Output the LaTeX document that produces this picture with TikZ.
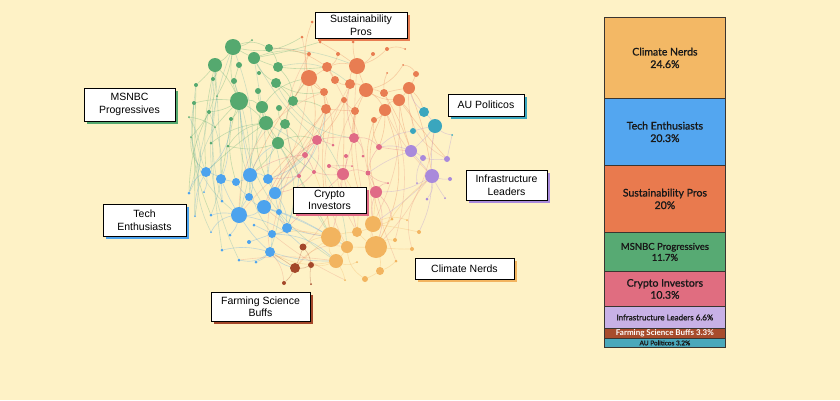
\documentclass[tikz,border=0pt]{standalone}
\usepackage{fontspec}
\setmainfont{Liberation Sans}
\newfontfamily\barfont{Lato}[FakeBold=1.2]
\newfontfamily\barfontw{Lato Bold}
\usetikzlibrary{shadows}
\pgfdeclarelayer{bg}
\pgfdeclarelayer{edges}
\pgfsetlayers{bg,edges,main}
\definecolor{bgc}{HTML}{FEF2C6}
\definecolor{cG}{HTML}{55A96F}
\definecolor{cS}{HTML}{E87D52}
\definecolor{cT}{HTML}{3AA6BE}
\definecolor{cP}{HTML}{A98ADB}
\definecolor{cK}{HTML}{E06A86}
\definecolor{cB}{HTML}{4DA3EE}
\definecolor{cC}{HTML}{F2B45F}
\definecolor{cF}{HTML}{A4482A}
\definecolor{barC}{HTML}{F3B865}
\definecolor{barT}{HTML}{53A6F0}
\definecolor{barS}{HTML}{E97A4E}
\definecolor{barG}{HTML}{57AA73}
\definecolor{barK}{HTML}{E06D80}
\definecolor{barP}{HTML}{C8B1E6}
\definecolor{barF}{HTML}{A84C2C}
\definecolor{barA}{HTML}{4AA8BB}
\definecolor{barline}{HTML}{3A3530}
\begin{document}
\begin{tikzpicture}[x=1pt,y=-1pt,
  dotn/.style={circle,inner sep=0pt,draw=none},
  ed/.style={line width=0.6pt,opacity=0.33},
  lab/.style={draw=black,fill=white,line width=0.9pt,align=center,inner sep=0pt,
    font=\fontsize{10.5}{12.5}\selectfont},
  seg/.style={draw=barline,line width=0.8pt,minimum width=121pt,inner sep=0pt,
    anchor=north west,align=center,text=black!90}]
\begin{pgfonlayer}{bg}
\fill[bgc] (0,0) rectangle (840,400);
\end{pgfonlayer}
\useasboundingbox (0,0) rectangle (840,400);

% ---------- dots ----------
\foreach \n/\p/\r in {G1/{233,47}/8,G2/{269,48}/4,G3/{215,65}/7,G4/{254,58}/6,G5/{239,65}/3,
  G6/{278,67}/5,G7/{259,73}/2,G8/{213,79}/2,G9/{234,81}/3,G10/{276,83}/5,G11/{258,91}/3,
  G12/{239,101}/9,G13/{262,107}/6,G14/{279,108}/3,G15/{293,101}/5,G16/{266,123}/7,
  G17/{285,124}/5,G18/{278,143}/6,G19/{196,85}/2,G20/{194,103}/2,G21/{209,112}/2,
  G22/{231,119}/2,G23/{189,117}/1,G24/{217,96}/1,G25/{252,40}/1,G26/{215,127}/1,
  G27/{191,137}/1,G28/{228,146}/1.5,G29/{211,143}/1.5}
  \node[dotn,fill=cG,minimum size=\r*2pt] (\n) at (\p) {};
\foreach \n/\p/\r in {S1/{312,22}/1.5,S2/{302,37}/1.5,S3/{320,42}/1.5,S4/{353,42}/1.5,
  S5/{309,54}/2,S6/{338,54}/2,S7/{373,54}/2,S8/{387,49}/2,S9/{405,49}/1,S10/{327,67}/5,
  S11/{357,66}/8,S12/{309,78}/8,S13/{335,80}/4,S14/{350,84}/5,S15/{324,92}/4,
  S16/{366,90}/7,S17/{384,93}/4,S18/{409,88}/6,S19/{416,74}/3,S20/{403,65}/1,
  S21/{387,73}/1,S22/{399,100}/6,S23/{344,100}/3,S24/{326,109}/5,S25/{355,111}/4,
  S26/{385,110}/6,S27/{374,120}/3}
  \node[dotn,fill=cS,minimum size=\r*2pt] (\n) at (\p) {};
\foreach \n/\p/\r in {T1/{424,112}/5,T2/{435,126}/7,T3/{413,131}/3,T4/{452,135}/1}
  \node[dotn,fill=cT,minimum size=\r*2pt] (\n) at (\p) {};
\foreach \n/\p/\r in {P1/{411,151}/6,P2/{423,158}/3,P3/{447,159}/3,P4/{432,176}/7,
  P5/{450,179}/2,P6/{427,199}/1.5,P7/{445,198}/1,P8/{417,183}/1}
  \node[dotn,fill=cP,minimum size=\r*2pt] (\n) at (\p) {};
\foreach \n/\p/\r in {K1/{317,140}/5,K2/{354,138}/5,K3/{379,147}/3,K4/{305,155}/3,
  K5/{333,145}/1.5,K6/{363,156}/1.5,K7/{346,156}/2,K8/{299,176}/2,K9/{314,172}/2,
  K10/{343,174}/6,K11/{368,173}/2.5,K12/{376,192}/6,K13/{329,166}/2,K14/{388,183}/1,
  K15/{352,166}/1}
  \node[dotn,fill=cK,minimum size=\r*2pt] (\n) at (\p) {};
\foreach \n/\p/\r in {B1/{206,172}/5,B2/{221,179}/5,B3/{236,182}/4,B4/{250,175}/7,
  B5/{268,179}/5,B6/{275,193}/6,B7/{249,197}/4,B8/{264,207}/7,B9/{279,212}/3,
  B10/{239,215}/8,B11/{287,228}/5,B12/{272,234}/4,B13/{270,252}/5,B14/{189,193}/1.5,
  B15/{204,192}/1,B16/{222,201}/1.5,B17/{211,215}/1.5,B18/{254,225}/1.5,B19/{211,232}/1,
  B20/{230,235}/1.5,B21/{249,242}/2,B22/{222,250}/1.5,B23/{239,260}/1.5,B24/{256,262}/1.5,
  B25/{195,216}/1}
  \node[dotn,fill=cB,minimum size=\r*2pt] (\n) at (\p) {};
\foreach \n/\p/\r in {C1/{331,237}/10,C2/{357,232}/5,C3/{373,224}/8,C4/{347,247}/6,
  C5/{376,247}/11,C6/{336,261}/7,C7/{380,271}/4,C8/{365,279}/3,C9/{392,219}/1.5,
  C10/{419,232}/2,C11/{395,240}/2,C12/{412,249}/2,C13/{396,261}/1.5,C14/{357,262}/1,
  C15/{407,220}/1,C16/{345,280}/1}
  \node[dotn,fill=cC,minimum size=\r*2pt] (\n) at (\p) {};
\foreach \n/\p/\r in {F1/{303,247}/3.5,F2/{295,268}/5,F3/{311,265}/3,F4/{284,283}/2,
  F5/{311,284}/1}
  \node[dotn,fill=cF,minimum size=\r*2pt] (\n) at (\p) {};

% ---------- edges ----------
\begin{pgfonlayer}{edges}
\foreach \a/\b [count=\i] in {G1/G3,G1/G4,G1/G12,G1/G2,G3/G12,G4/G6,G4/G10,G12/G13,
  G12/G16,G13/G16,G16/G18,G6/G15,G10/G15,G15/G17,G17/G18,G12/G22,G3/G19,G12/G20,
  G16/G28,G18/G28,G9/G12,G11/G13,G14/G17,G2/G6,G5/G9,G1/G25,G3/G8,G12/G21,G12/G26,
  G16/G29,G18/K1,G18/B4,G16/B1,G12/B3,G13/S12,G15/S12,G6/S10,G10/S15,G17/K4,G12/B10,
  G3/B1,G1/S2,G4/S5,G18/C1,G16/K9,G13/B6,G15/S24,G22/B2,G21/B14,G27/B1,G23/G26,
  G19/B25,G20/B17,G3/G27,G1/G24,G4/S3}
  {\pgfmathsetmacro\bd{mod(\i*37,50)-25}
   \draw[ed,cG] (\a) to[bend left=\bd] (\b);}
\foreach \a/\b [count=\i] in {S10/S11,S10/S12,S11/S16,S12/S15,S13/S14,S14/S16,S16/S17,
  S17/S18,S18/S19,S16/S22,S22/S26,S26/S27,S24/S15,S24/S25,S23/S25,S11/S14,S12/S24,
  S16/S26,S18/S22,S13/S10,S11/S7,S10/S6,S12/S5,S26/K3,S24/K1,S25/K2,S27/K3,S22/T3,
  S18/T1,S17/P1,S22/P1,S16/K2,S26/K12,S12/K4,S15/K5,S23/K10,S24/C1,S25/C3,S26/C5,
  S14/K1,S18/P4,S11/S3,S11/S8,S16/S20,S8/S9,S17/S21,S24/B5,S12/B4,S10/G2,S19/S20,
  S12/S1,S11/S4,S22/P3,S27/K11}
  {\pgfmathsetmacro\bd{mod(\i*41,50)-25}
   \draw[ed,cS] (\a) to[bend left=\bd] (\b);}
\foreach \a/\b [count=\i] in {T1/T2,T2/T3,T2/T4,T1/S18,T2/P1,T2/P4,T3/K3,
  P1/P2,P1/P4,P4/P5,P4/P6,P3/P2,P4/P7,P1/K3,P4/K12,P4/C3,P1/K11,P2/P8,P4/C10,P3/T4}
  {\pgfmathsetmacro\bd{mod(\i*29,40)-20}
   \draw[ed,cP] (\a) to[bend left=\bd] (\b);}
\foreach \a/\b [count=\i] in {K1/K2,K1/K4,K2/K3,K4/K9,K9/K10,K10/K11,K11/K12,K10/K13,
  K2/K6,K1/K5,K10/K7,K12/K14,K10/C1,K12/C3,K9/B6,K8/B5,K4/B4,K1/B6,K13/K15,K3/K11,
  K12/C5,K10/C2,K8/K4,K1/K9,K2/K10,K11/K14,K12/C9,K10/B11,K1/B8,K2/S14,K3/P1}
  {\pgfmathsetmacro\bd{mod(\i*33,50)-25}
   \draw[ed,cK] (\a) to[bend left=\bd] (\b);}
\foreach \a/\b [count=\i] in {B1/B2,B2/B3,B3/B4,B4/B5,B5/B6,B6/B9,B7/B8,B8/B10,B10/B7,
  B8/B9,B9/B11,B11/B12,B12/B13,B10/B13,B7/B4,B6/B11,B10/B2,B3/B7,B1/B14,B1/B15,B2/B16,
  B10/B17,B10/B19,B10/B20,B12/B21,B13/B22,B13/B23,B13/B24,B12/B18,B1/B25,B8/B11,B6/K4,
  B11/C1,B13/F2,B12/C6,B8/C1,B11/K8,B5/K1,B4/G18,B9/C4,B13/C6,B1/G22,B10/F1,B4/G12,
  B2/G28,B6/S24,B5/G17}
  {\pgfmathsetmacro\bd{mod(\i*37,50)-25}
   \draw[ed,cB] (\a) to[bend left=\bd] (\b);}
\foreach \a/\b [count=\i] in {C1/C2,C2/C3,C1/C4,C4/C5,C3/C5,C5/C7,C6/C4,C6/C1,C7/C8,
  C3/C9,C5/C11,C5/C12,C6/C14,C6/C16,C7/C13,C3/C15,C3/C10,C1/F1,C6/F3,C1/F2,C4/C8,
  C5/C2,C1/B12,C6/B13,C3/K12,C2/K10,C5/P4,C1/K9}
  {\pgfmathsetmacro\bd{mod(\i*31,50)-25}
   \draw[ed,cC] (\a) to[bend left=\bd] (\b);}
\foreach \a/\b [count=\i] in {F1/F2,F2/F3,F2/F4,F3/F5,F1/F3,F2/B13}
  {\pgfmathsetmacro\bd{mod(\i*23,40)-20}
   \draw[ed,cF] (\a) to[bend left=\bd] (\b);}
% long, sweeping cross-group edges
\foreach \a/\b [count=\i] in {G1/B10,G3/B2,G12/B8,G16/B12,G13/B13,G4/B5,G19/B1,G20/B10,
  G21/B17,G8/B14,G24/B16,G26/B19,G18/B11,G15/K10,G17/C1,G10/K2,G6/S14,G2/S11,G4/K1,
  G12/C6,G16/C4,G9/B7,G3/B22,G1/B23,G23/B14,G27/B25}
  {\pgfmathsetmacro\bd{mod(\i*53,70)-35}
   \draw[ed,cG!55!cB,opacity=0.28] (\a) to[bend left=\bd] (\b);}
\foreach \a/\b [count=\i] in {S12/B8,S24/B12,S15/B10,S10/C3,S11/C5,S16/C2,S22/C3,
  S26/P4,S18/P3,K10/F1,K4/B10,K1/B13,C1/B8,C6/B23,C4/F2,B13/F4,B12/C16,P4/C12,T2/C5,
  S23/B6,S14/C4,S17/C11,K11/C13,S5/K8,S2/G15}
  {\pgfmathsetmacro\bd{mod(\i*47,70)-35}
   \draw[ed,cS!60!cK,opacity=0.25] (\a) to[bend left=\bd] (\b);}
\end{pgfonlayer}

% ---------- labels ----------
\node[lab,minimum width=92pt,minimum height=26pt,general shadow={fill=cS,shadow xshift=3pt,shadow yshift=-3pt}] (lSus) at (361,25) {Sustainability\\Pros};
\node[lab,minimum width=76pt,minimum height=22pt,general shadow={fill=cT,shadow xshift=3pt,shadow yshift=-3pt}] (lAU) at (486,105) {AU Politicos};
\node[lab,minimum width=81pt,minimum height=30pt,general shadow={fill=cP,shadow xshift=3pt,shadow yshift=-3pt}] (lInf) at (506.5,185) {Infrastructure\\Leaders};
\node[lab,minimum width=73pt,minimum height=26pt,general shadow={fill=cK,shadow xshift=3pt,shadow yshift=-3pt}] (lCry) at (329.5,200) {Crypto\\Investors};
\node[lab,minimum width=91pt,minimum height=33pt,general shadow={fill=cG,shadow xshift=3pt,shadow yshift=-3pt}] (lMS) at (129.5,104.5) {MSNBC\\Progressives};
\node[lab,minimum width=83pt,minimum height=32pt,general shadow={fill=cB,shadow xshift=3pt,shadow yshift=-3pt}] (lTech) at (144.5,220) {Tech\\Enthusiasts};
\node[lab,minimum width=99pt,minimum height=21pt,general shadow={fill=cC,shadow xshift=3pt,shadow yshift=-3pt}] (lCli) at (464.5,268.5) {Climate Nerds};
\node[lab,minimum width=99pt,minimum height=29pt,general shadow={fill=cF,shadow xshift=3pt,shadow yshift=-3pt}] (lFar) at (260.5,306.5) {Farming Science\\Buffs};

% ---------- bar ----------
\node[seg,fill=barC,minimum height=81pt,font=\barfont\fontsize{10.5}{12.5}\selectfont] (bar1) at (604,17) {Climate Nerds\\24.6\%};
\node[seg,fill=barT,minimum height=67pt,font=\barfont\fontsize{10.5}{12.5}\selectfont] (bar2) at (604,98) {Tech Enthusiasts\\20.3\%};
\node[seg,fill=barS,minimum height=67pt,font=\barfont\fontsize{10.5}{12.5}\selectfont] (bar3) at (604,165) {Sustainability Pros\\20\%};
\node[seg,fill=barG,minimum height=39pt,font=\barfont\fontsize{9.5}{11}\selectfont] (bar4) at (604,232) {MSNBC Progressives\\11.7\%};
\node[seg,fill=barK,minimum height=35pt,font=\barfont\fontsize{10.5}{12}\selectfont] (bar5) at (604,271) {Crypto Investors\\10.3\%};
\node[seg,fill=barP,minimum height=22pt,font=\barfont\fontsize{8}{8.5}\selectfont] (bar6) at (604,306) {Infrastructure Leaders 6.6\%};
\node[seg,fill=barF,minimum height=10pt,text=white,font=\barfontw\fontsize{8}{8.5}\selectfont] (bar7) at (604,328) {Farming Science Buffs 3.3\%};
\node[seg,fill=barA,minimum height=9pt,font=\barfont\fontsize{6.5}{7}\selectfont] (bar8) at (604,338) {AU Politicos 3.2\%};
\end{tikzpicture}
\end{document}
